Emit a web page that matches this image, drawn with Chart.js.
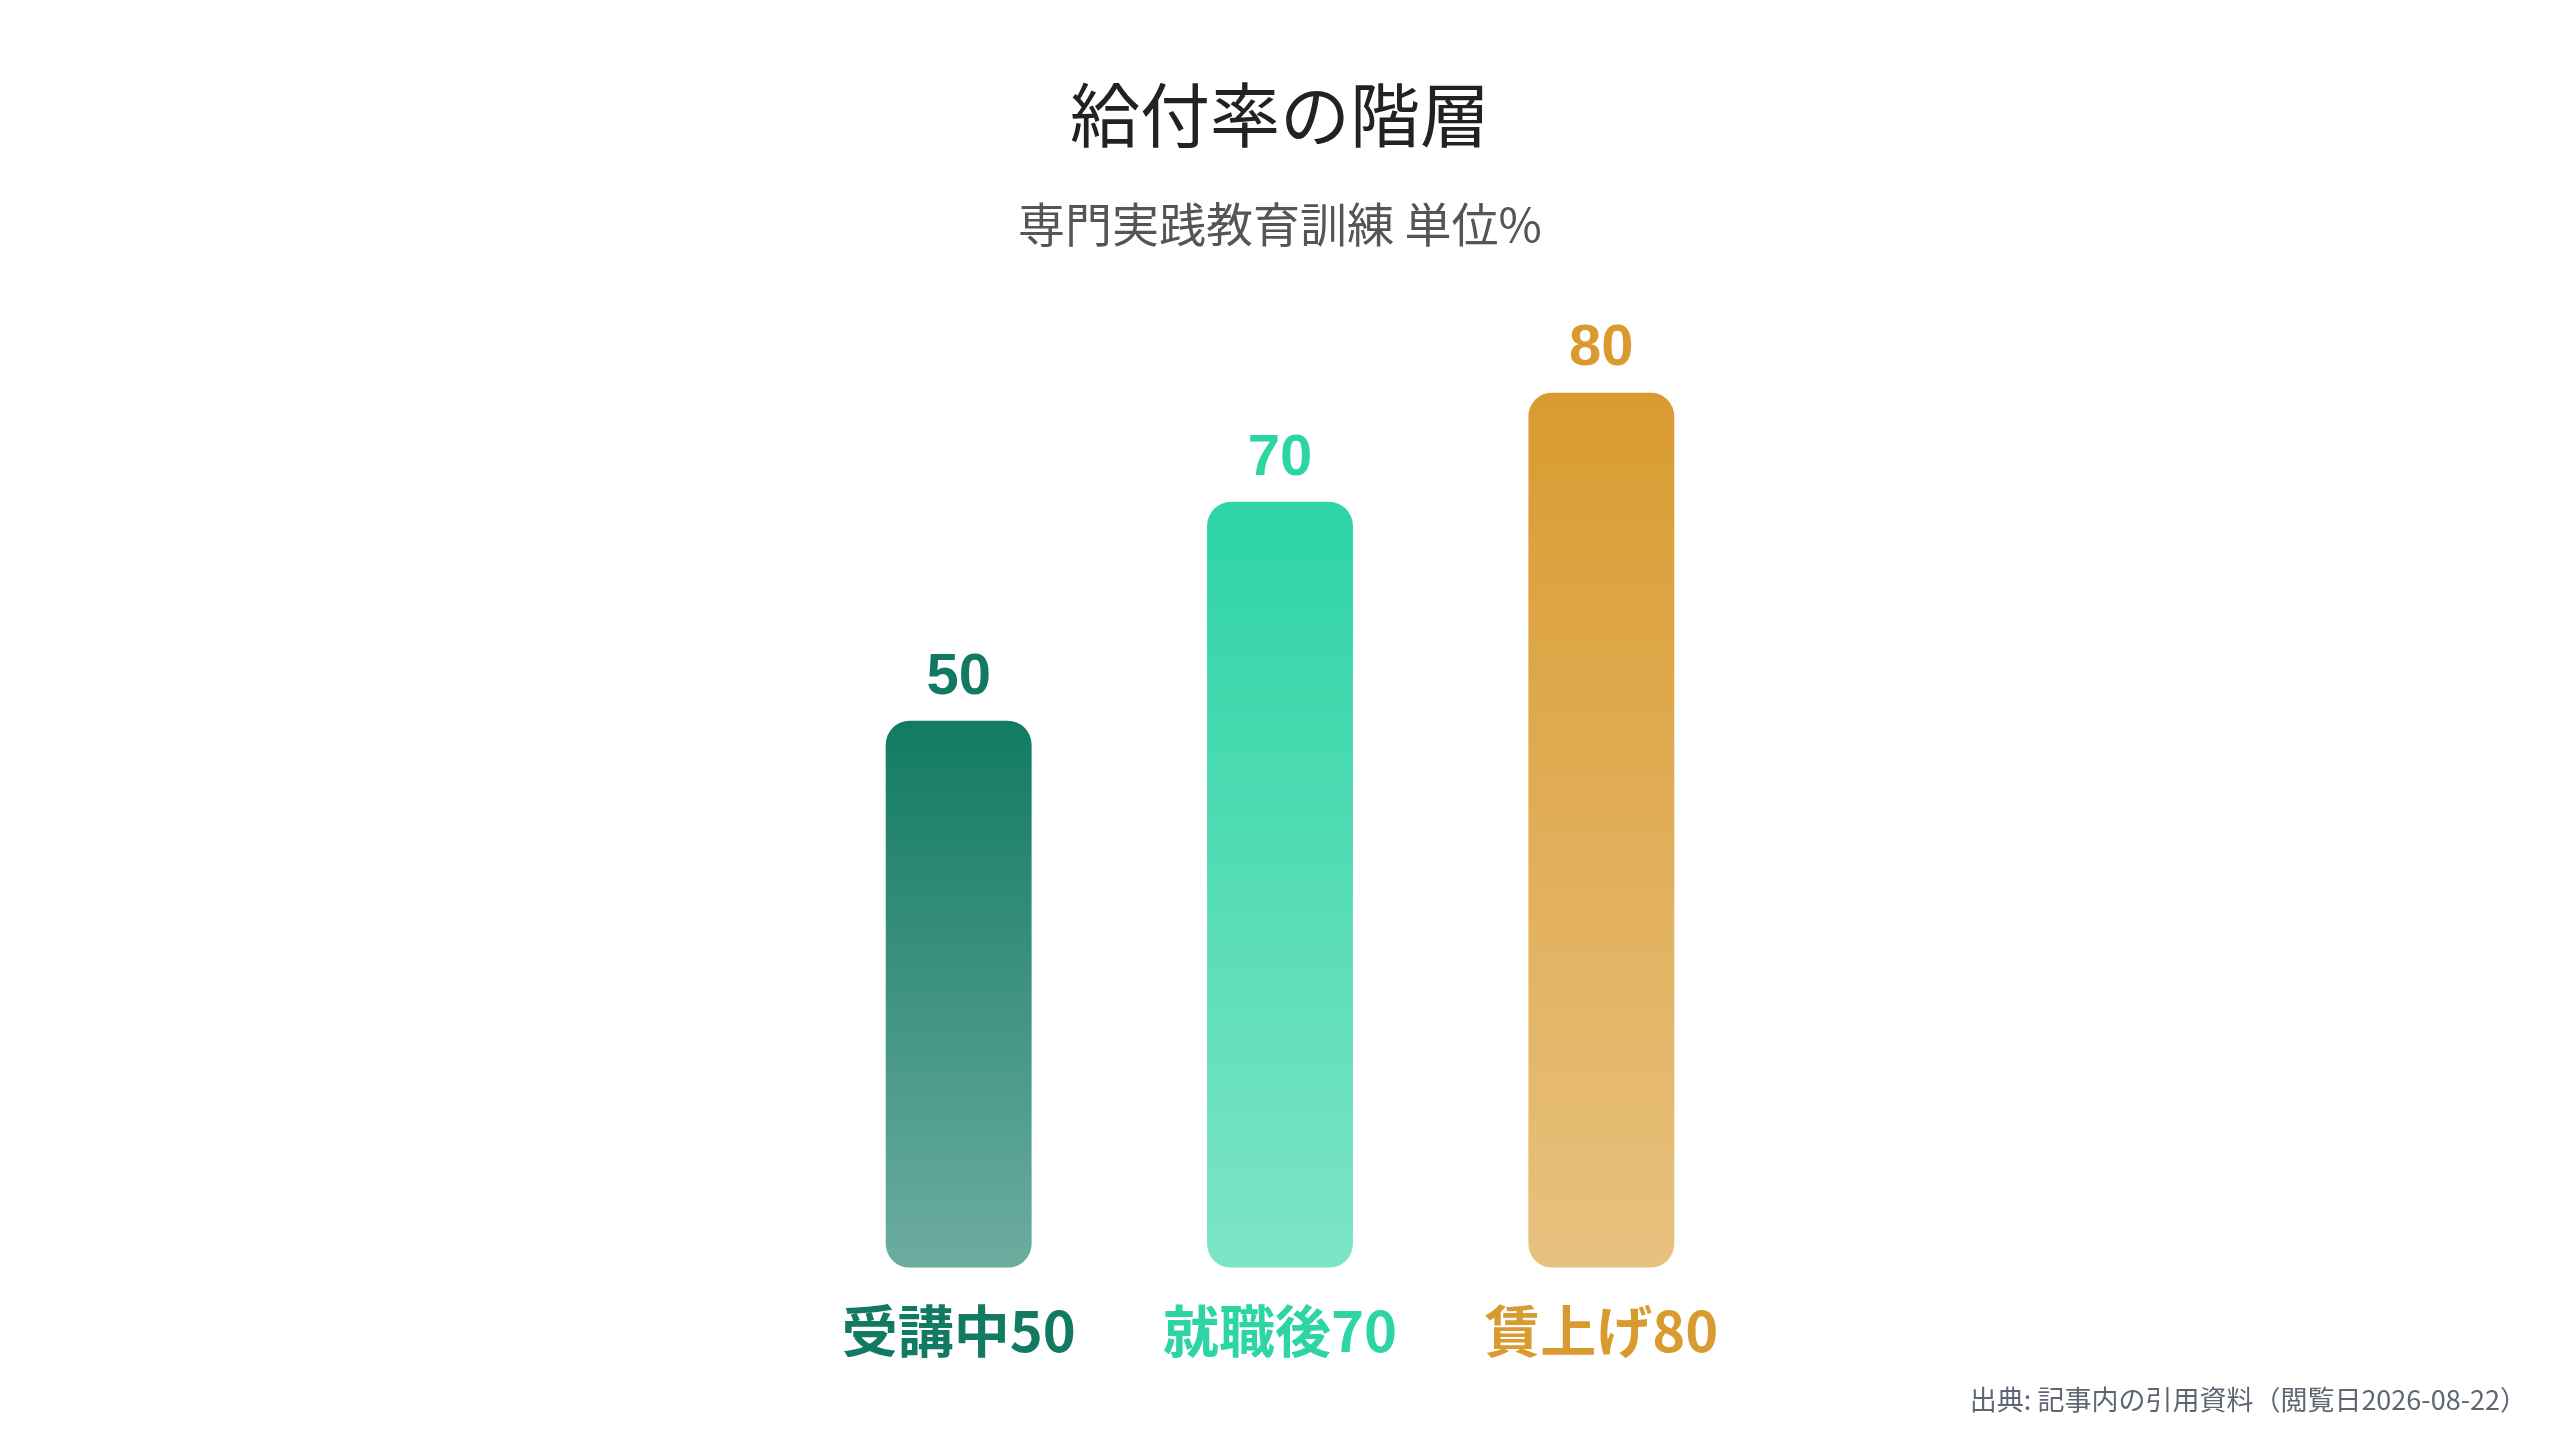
<!DOCTYPE html>
<html lang="ja">
<head>
<meta charset="utf-8">
<title>給付率の階層</title>
<script src="https://cdn.jsdelivr.net/npm/chart.js@4/dist/chart.umd.min.js"></script>
<style>
  html, body { margin: 0; padding: 0; background: #ffffff; }
  #wrap { position: relative; width: 2560px; height: 1440px; }
  #source {
    position: absolute; right: 33px; top: 1385px;
    font: 27px/1 "Noto Sans CJK JP", sans-serif; color: #5f6673;
  }
</style>
</head>
<body>
<div id="wrap">
  <canvas id="chart" width="2560" height="1440"></canvas>
  <div id="source">出典: 記事内の引用資料（閲覧日2026-08-22）</div>
</div>
<script>
// データ
const stages = ['受講中', '就職後', '賃上げ'];
const rates = [50, 70, 80];
const topColors = ['#127a63', '#2dd4a4', '#d99b30'];
const bottomColors = ['rgba(18,122,99,0.62)', 'rgba(45,212,164,0.62)', 'rgba(217,155,48,0.62)'];

const labels = stages.map((s, i) => s + rates[i]);

// 各バーの上端から下端へのグラデーション
function barGradient(ctx) {
  const chart = ctx.chart;
  const y = chart.scales.y;
  if (!chart.chartArea || !y) return topColors[ctx.dataIndex];
  const top = y.getPixelForValue(ctx.raw);
  const bottom = y.getPixelForValue(0);
  const g = chart.ctx.createLinearGradient(0, top, 0, bottom);
  g.addColorStop(0, topColors[ctx.dataIndex]);
  g.addColorStop(1, bottomColors[ctx.dataIndex]);
  return g;
}

// バー上の数値ラベル
const valueLabels = {
  id: 'valueLabels',
  afterDatasetsDraw(chart) {
    const ctx = chart.ctx;
    const meta = chart.getDatasetMeta(0);
    ctx.save();
    ctx.font = 'bold 58px "Liberation Sans", Arial, sans-serif';
    ctx.textAlign = 'center';
    ctx.textBaseline = 'alphabetic';
    meta.data.forEach((bar, i) => {
      ctx.fillStyle = topColors[i];
      ctx.fillText(String(rates[i]), bar.x, bar.y - 27);
    });
    ctx.restore();
  }
};

new Chart(document.getElementById('chart'), {
  type: 'bar',
  data: {
    labels,
    datasets: [{
      data: rates,
      backgroundColor: barGradient,
      borderRadius: 24,
      borderSkipped: false,
      barPercentage: 0.454,
      categoryPercentage: 1
    }]
  },
  options: {
    responsive: false,
    devicePixelRatio: 1,
    animation: false,
    layout: { padding: { top: 20, left: 798, right: 798, bottom: 47 } },
    plugins: {
      legend: { display: false },
      tooltip: { enabled: false },
      title: {
        display: true,
        text: '給付率の階層',
        color: '#222222',
        font: { family: '"Noto Sans CJK JP", sans-serif', size: 70, weight: 'normal' },
        padding: { top: 53, bottom: 0 }
      },
      subtitle: {
        display: true,
        text: '専門実践教育訓練 単位%',
        color: '#555555',
        font: { family: '"Noto Sans CJK JP", sans-serif', size: 47, weight: 'normal' },
        padding: { top: 39, bottom: 140 }
      }
    },
    scales: {
      x: {
        grid: { display: false, drawTicks: false },
        border: { display: false },
        ticks: {
          padding: 29,
          color: (c) => topColors[c.index],
          font: { family: '"Noto Sans CJK JP", sans-serif', size: 56, weight: 'bold' }
        }
      },
      y: {
        display: false,
        min: 0,
        max: 80
      }
    }
  },
  plugins: [valueLabels]
});
</script>
</body>
</html>
